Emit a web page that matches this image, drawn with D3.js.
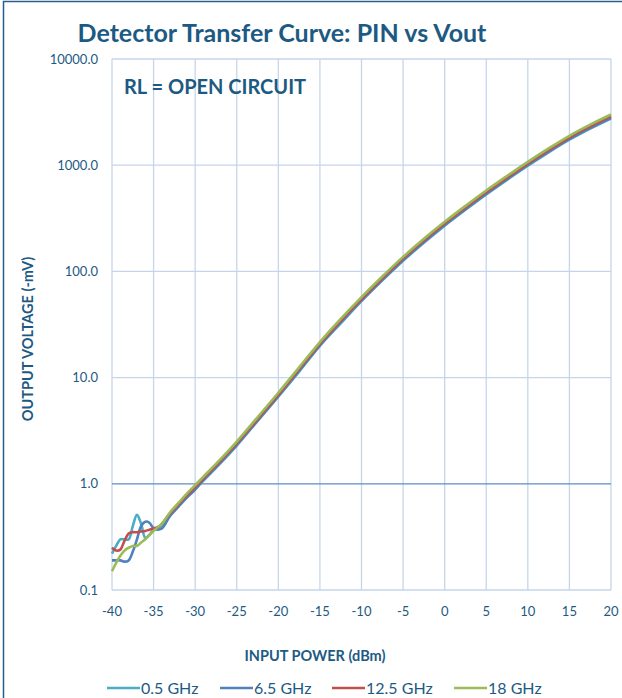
<!DOCTYPE html>
<meta charset="UTF-8">
<style>
  body { margin: 0; background: #fff; }
  svg text { font-family: Lato, "Open Sans", sans-serif; fill: #1d5a83; }
  .grid line { stroke: #c6d6ea; stroke-width: 1.3px; }
  .series { fill: none; stroke-width: 2.6px; }
</style>
<body>
<div class="chart"></div>
<script src="https://d3js.org/d3.v7.min.js"></script>
<script>
var width = 622, height = 698;

// input power (dBm)
var pin = [-40, -39.5, -39, -38.5, -38, -37.5, -37, -36.5, -36, -35.5, -35, -34.5, -34, -33, -32, -31, -30,
           -29, -27.5, -25, -22.5, -20, -17.5, -15, -12.5, -10, -7.5, -5, -2.5, 0, 2.5, 5, 7.5, 10, 12.5, 15, 17.5, 20];

// output voltage (-mV) per frequency
var v05 = [0.22, 0.26, 0.30, 0.30, 0.30, 0.40, 0.51, 0.42, 0.31, 0.33, 0.37, 0.38, 0.40, 0.52, 0.63, 0.76, 0.90,
           1.07, 1.41, 2.29, 3.89, 6.61, 11.4, 19.9, 32.4, 52.5, 82.2, 126, 186, 269, 380, 531, 728, 988, 1322, 1738, 2213, 2754];
var v65 = [0.19, 0.19, 0.19, 0.185, 0.19, 0.23, 0.30, 0.40, 0.44, 0.43, 0.38, 0.37, 0.38, 0.50, 0.61, 0.74, 0.88,
           1.09, 1.44, 2.33, 3.95, 6.71, 11.6, 20.2, 33.3, 53.4, 83.5, 128, 189, 274, 386, 539, 739, 1004, 1342, 1765, 2247, 2797];
var v125 = [0.25, 0.235, 0.24, 0.29, 0.34, 0.35, 0.35, 0.355, 0.36, 0.37, 0.38, 0.39, 0.42, 0.53, 0.64, 0.78, 0.93,
            1.12, 1.48, 2.40, 4.07, 6.92, 12.0, 20.8, 34.3, 55.0, 86.1, 132, 195, 282, 398, 556, 762, 1035, 1384, 1820, 2317, 2884];
var v18 = [0.15, 0.18, 0.21, 0.235, 0.25, 0.26, 0.26, 0.28, 0.30, 0.33, 0.36, 0.39, 0.42, 0.54, 0.66, 0.81, 0.97,
           1.17, 1.54, 2.50, 4.23, 7.2, 12.5, 21.6, 35.7, 57.2, 89.5, 137, 203, 293, 414, 578, 792, 1076, 1439, 1893, 2410, 3000];

var seriesNames = ["0.5 GHz", "6.5 GHz", "12.5 GHz", "18 GHz"];
var seriesValues = [v05, v65, v125, v18];
var colors = ["#4bacc6", "#4f81bd", "#c0504d", "#9bbb59"];

var xTicks = [-40, -35, -30, -25, -20, -15, -10, -5, 0, 5, 10, 15, 20];
var yTicks = [0.1, 1, 10, 100, 1000, 10000];

var svg = d3.select(".chart").append("svg")
  .attr("width", width)
  .attr("height", height);

// outer frame
svg.append("rect")
  .attr("x", 3.5).attr("y", 1.5)
  .attr("width", 700).attr("height", 800)
  .attr("fill", "none").attr("stroke", "#2a5d8a").attr("stroke-width", 1.5);

var x = d3.scaleLinear().domain([-40, 20]).range([112, 611]);
var y = d3.scaleLog().domain([0.1, 10000]).range([590, 59]);

// grid
var grid = svg.append("g").attr("class", "grid");
grid.selectAll(".vx").data(xTicks).enter().append("line")
  .attr("x1", function (d) { return x(d); }).attr("x2", function (d) { return x(d); })
  .attr("y1", y(10000)).attr("y2", y(0.1));
grid.selectAll(".hy").data(yTicks).enter().append("line")
  .attr("x1", x(-40)).attr("x2", x(20))
  .attr("y1", function (d) { return y(d); }).attr("y2", function (d) { return y(d); })
  .style("stroke", function (d) { return d === 1 ? "#5f8bc2" : null; });

// tick labels
svg.selectAll(".xt").data(xTicks).enter().append("text")
  .attr("x", function (d) { return x(d); })
  .attr("y", 616)
  .attr("text-anchor", "middle")
  .style("font-size", "13px")
  .text(function (d) { return d; });

svg.selectAll(".yt").data(yTicks).enter().append("text")
  .attr("x", 98)
  .attr("y", function (d) { return y(d) + 4.5; })
  .attr("text-anchor", "end")
  .style("font-size", "13px")
  .text(function (d) { return d3.format(".1f")(d); });

// lines
var line = d3.line()
  .x(function (d) { return x(d[0]); })
  .y(function (d) { return y(d[1]); })
  .curve(d3.curveCatmullRom.alpha(0.5));

seriesValues.forEach(function (vals, i) {
  svg.append("path")
    .attr("class", "series")
    .attr("stroke", colors[i])
    .attr("d", line(pin.map(function (p, j) { return [p, vals[j]]; })));
});

// titles
svg.append("text")
  .attr("x", 282).attr("y", 42)
  .attr("text-anchor", "middle")
  .style("font-size", "25px").style("font-weight", "bold")
  .text("Detector Transfer Curve: PIN vs Vout");

svg.append("text")
  .attr("x", 124).attr("y", 94)
  .style("font-size", "20px").style("font-weight", "bold")
  .text("RL = OPEN CIRCUIT");

svg.append("text")
  .attr("x", 315).attr("y", 661)
  .attr("text-anchor", "middle")
  .style("font-size", "14.5px").style("font-weight", "bold")
  .text("INPUT POWER (dBm)");

svg.append("text")
  .attr("transform", "translate(33,339) rotate(-90)")
  .attr("text-anchor", "middle")
  .style("font-size", "14.5px").style("font-weight", "bold")
  .text("OUTPUT VOLTAGE (-mV)");

// legend
var legendX = [107, 220, 332, 454];
var leg = svg.selectAll(".leg").data(seriesNames).enter().append("g")
  .attr("transform", function (d, i) { return "translate(" + legendX[i] + ",688)"; });
leg.append("line")
  .attr("x1", 0).attr("x2", 33).attr("y1", 0).attr("y2", 0)
  .attr("stroke", function (d, i) { return colors[i]; })
  .attr("stroke-width", 2.6);
leg.append("text")
  .attr("x", 34).attr("y", 5.5)
  .style("font-size", "16px")
  .text(function (d) { return d; });
</script>
</body>
